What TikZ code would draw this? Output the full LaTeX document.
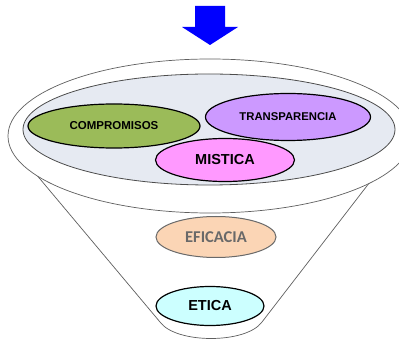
\documentclass[tikz,border=0pt]{standalone}
\usepackage{fontspec}
\setmainfont{Liberation Sans}
\newfontfamily\calibrifont{Carlito}
\usepackage{tikz}
\usetikzlibrary{shapes.geometric}
\definecolor{funnel-line}{RGB}{95,95,95}
\definecolor{bowl-fill}{RGB}{230,234,242}
\definecolor{green-oval}{RGB}{155,187,89}
\definecolor{violet-oval}{RGB}{204,153,255}
\definecolor{pink-oval}{RGB}{255,153,255}
\definecolor{peach-oval}{RGB}{251,213,181}
\definecolor{cyan-oval}{RGB}{204,255,255}
\definecolor{grey-text}{RGB}{105,105,105}
\tikzset{
    funnel-body/.style = {draw=funnel-line, fill=white, line width=0.7pt, line join=round},
    bowl/.style = {draw=funnel-line!80!black, fill=bowl-fill, line width=0.8pt},
    idea-oval/.style = {ellipse, draw=black, line width=1.2pt, inner sep=0pt, font=\bfseries},
    drop-arrow/.style = {fill=blue},
}
\begin{document}
\begin{tikzpicture}[x=1pt,y=1pt]
\useasboundingbox (0,0) rectangle (399,343);
\fill[drop-arrow] (195,337) -- (225,337) -- (225,316) -- (238,316) -- (210,298) -- (182,316) -- (195,316) -- cycle;
\draw[funnel-body] (9,201) -- (160,21) .. controls (176,-1) and (246,-1) .. (262,21) -- (400,200) -- cycle;
\draw[funnel-body] (210,207) ellipse (202 and 77);
\draw[bowl] (209,213.5) ellipse (186 and 55.5);
\node[idea-oval, fill=green-oval, minimum width=172pt, minimum height=44pt, font=\bfseries\fontsize{11.5}{12}\selectfont] (compromisos) at (114,217) {COMPROMISOS};
\node[idea-oval, fill=violet-oval, minimum width=165pt, minimum height=47pt, font=\bfseries\fontsize{11.3}{12}\selectfont] (transparencia) at (288,226) {TRANSPARENCIA};
\node[idea-oval, fill=pink-oval, minimum width=139pt, minimum height=43pt, font=\bfseries\fontsize{14.5}{15}\selectfont] (mistica) at (225,183) {MISTICA};
\node[idea-oval, fill=peach-oval, draw=grey-text, line width=1pt, text=grey-text, minimum width=120pt, minimum height=41pt, font=\calibrifont\bfseries\fontsize{16.5}{17}\selectfont] (eficacia) at (216,106) {EFICACIA};
\node[idea-oval, fill=cyan-oval, minimum width=108pt, minimum height=39pt, font=\bfseries\fontsize{14.5}{15}\selectfont] (etica) at (210,37) {ETICA};
\end{tikzpicture}
\end{document}
